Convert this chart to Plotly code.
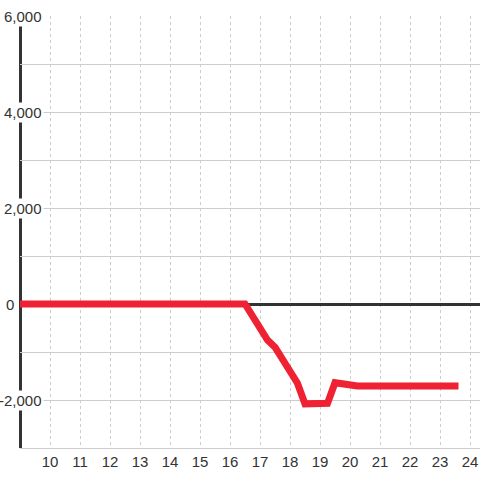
import plotly.graph_objects as go

# Data
hours = [9, 16.5, 17.25, 17.5, 18.25, 18.5, 19.25, 19.5, 20.25, 23.5]
values = [0, 0, -750, -900, -1650, -2080, -2070, -1640, -1710, -1710]

x_ticks = list(range(10, 25))
y_ticks = list(range(-3000, 6001, 1000))
y_labelled = [6000, 4000, 2000, 0, -2000]

FONT = "Liberation Sans, Arial, sans-serif"
TEXT = "#333333"
GRID = "#cccccc"

fig = go.Figure()
fig.add_trace(go.Scatter(
    x=hours, y=values, mode="lines",
    line=dict(color="#ee2233", width=7),
    hoverinfo="skip", showlegend=False,
))

fig.update_layout(
    width=480, height=480,
    margin=dict(l=20, r=0, t=16, b=32, autoexpand=False),
    paper_bgcolor="white", plot_bgcolor="white",
    font=dict(family=FONT, size=15, color=TEXT),
    showlegend=False,
)

fig.update_xaxes(
    range=[9, 9 + 460 / 30], tickvals=x_ticks, ticktext=[str(v) for v in x_ticks],
    showgrid=True, gridcolor=GRID, gridwidth=1, griddash="3px,3px",
    showline=True, linecolor=GRID, linewidth=1, automargin=False,
    zeroline=False, ticks="", tickfont=dict(family=FONT, size=15, color=TEXT),
)
fig.update_yaxes(
    range=[-3000, 6000], tickvals=y_ticks, showticklabels=False,
    showgrid=True, gridcolor=GRID, gridwidth=1, automargin=False,
    zeroline=True, zerolinecolor="#333333", zerolinewidth=3,
    showline=False, ticks="",
)

# dark y-axis line
fig.add_shape(type="line", xref="paper", yref="paper",
              x0=0.5 / 460, x1=0.5 / 460, y0=0, y1=1,
              line=dict(color="#333333", width=3), layer="below")

# y tick labels with white background
for v in y_labelled:
    right_px = 16 if v == 0 else 44
    fig.add_annotation(
        xref="paper", yref="y", x=(right_px - 20) / 460, y=v,
        text=f"{v:,}", showarrow=False, xanchor="right", yanchor="middle",
        bgcolor="white", borderpad=1,
        font=dict(family=FONT, size=15, color=TEXT),
    )

post = (
    "document.body.style.margin='0';"
    "document.body.style.overflow='hidden';"
    "document.querySelectorAll('.scatterlayer .js-line').forEach(function(p){p.style.strokeLinecap='square';});"
)
fig.write_html("out.html", post_script=post, config={"displayModeBar": False, "staticPlot": True})
